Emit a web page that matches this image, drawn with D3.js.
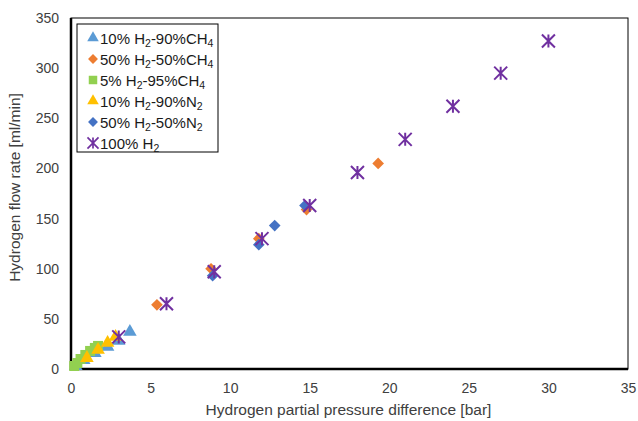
<!DOCTYPE html>
<html>
<head>
<meta charset="utf-8">
<script src="https://cdn.jsdelivr.net/npm/d3@7"></script>
<style>
  body { margin: 0; background: #fff; }
  text { font-family: "Liberation Sans", Arial, sans-serif; fill: #404040; }
</style>
</head>
<body>
<div id="chart-container"></div>
<script>
// Plot area margins
const margin = { top: 18, right: 10, bottom: 52, left: 71 },
    width = 638 - margin.left - margin.right,
    height = 421 - margin.top - margin.bottom;

// Tick values
const xTicks = [0, 5, 10, 15, 20, 25, 30, 35];
const yTicks = [0, 50, 100, 150, 200, 250, 300, 350];

// Series data (pressure difference [bar], flow [ml/min])
const h2ch4_10x = [0.3, 0.8, 1.5, 2.3, 3.0, 3.7];
const h2ch4_10y = [3, 9, 16, 22, 28, 37];
const h2ch4_50x = [5.4, 8.8, 11.8, 14.8, 19.3];
const h2ch4_50y = [64, 100, 130, 159, 205];
const h2ch4_5x = [0.2, 0.4, 0.6, 0.9, 1.2, 1.5, 1.7];
const h2ch4_5y = [3, 6, 10, 14, 18, 21, 23];
const h2n2_10x = [1.0, 1.7, 2.3, 2.8];
const h2n2_10y = [11, 19, 26, 32];
const h2n2_50x = [8.9, 11.8, 12.8, 14.7];
const h2n2_50y = [93, 124, 143, 163];
const h2_100x = [3, 6, 9, 12, 15, 18, 21, 24, 27, 30];
const h2_100y = [32, 65, 97, 130, 163, 196, 229, 262, 295, 327];

const series = [
    { label: ["10% H", "2", "-90%CH", "4"], xs: h2ch4_10x, ys: h2ch4_10y, shape: "triangle", color: "#5B9BD5" },
    { label: ["50% H", "2", "-50%CH", "4"], xs: h2ch4_50x, ys: h2ch4_50y, shape: "diamond", color: "#ED7D31" },
    { label: ["5% H", "2", "-95%CH", "4"], xs: h2ch4_5x, ys: h2ch4_5y, shape: "square", color: "#92D050" },
    { label: ["10% H", "2", "-90%N", "2"], xs: h2n2_10x, ys: h2n2_10y, shape: "triangle", color: "#FFC000" },
    { label: ["50% H", "2", "-50%N", "2"], xs: h2n2_50x, ys: h2n2_50y, shape: "diamond", color: "#4472C4" },
    { label: ["100% H", "2"], xs: h2_100x, ys: h2_100y, shape: "star", color: "#7030A0" }
];

function drawMarker(g, shape, color) {
    if (shape === "triangle") {
        g.append("path").attr("d", d3.symbol(d3.symbolTriangle, 80)()).attr("fill", color);
    } else if (shape === "diamond") {
        g.append("path").attr("d", d3.symbol(d3.symbolSquare, 68)())
            .attr("transform", "rotate(45)").attr("fill", color);
    } else if (shape === "square") {
        g.append("path").attr("d", d3.symbol(d3.symbolSquare, 100)()).attr("fill", color);
    } else {
        const r = 6.5;
        g.append("path")
            .attr("d", `M${-r},${-r}L${r},${r}M${-r},${r}L${r},${-r}M0,${-r}L0,${r}`)
            .attr("stroke", color).attr("stroke-width", 2).attr("fill", "none");
    }
}

function init() {
    const svg = d3.select("#chart-container")
        .append("svg")
        .attr("width", 638)
        .attr("height", 421)
        .append("g")
        .attr("transform", `translate(${margin.left},${margin.top})`);

    const xScale = d3.scaleLinear().domain([0, 35]).range([0, width]);
    const yScale = d3.scaleLinear().domain([0, 350]).range([height, 0]);

    // Frame: thin top/right, thick left/bottom
    svg.append("rect")
        .attr("width", width).attr("height", height)
        .attr("fill", "none").attr("stroke", "#000").attr("stroke-width", 1);
    svg.append("path")
        .attr("d", `M0,0V${height}H${width}`)
        .attr("fill", "none").attr("stroke", "#000").attr("stroke-width", 2.5);

    // Axes (labels only)
    const xAxis = svg.append("g")
        .attr("transform", `translate(0,${height})`)
        .call(d3.axisBottom(xScale).tickValues(xTicks).tickSize(0).tickPadding(14));
    const yAxis = svg.append("g")
        .call(d3.axisLeft(yScale).tickValues(yTicks).tickSize(0).tickPadding(12));
    [xAxis, yAxis].forEach(a => {
        a.select(".domain").remove();
        a.selectAll("text").style("font-size", "14px")
            .style("font-family", "'Liberation Sans', Arial, sans-serif").attr("fill", "#404040");
    });

    // Axis titles
    svg.append("text")
        .attr("x", width / 2 - 1)
        .attr("y", height + 46)
        .attr("text-anchor", "middle")
        .style("font-size", "15.5px")
        .text("Hydrogen partial pressure difference [bar]");
    svg.append("text")
        .attr("transform", `translate(${-51},${height / 2 - 6}) rotate(-90)`)
        .attr("text-anchor", "middle")
        .style("font-size", "15.5px")
        .text("Hydrogen flow rate [ml/min]");

    // Points
    series.forEach(s => {
        s.xs.forEach((x, i) => {
            const g = svg.append("g")
                .attr("transform", `translate(${xScale(x)},${yScale(s.ys[i])})`);
            drawMarker(g, s.shape, s.color);
        });
    });

    // Legend
    const legend = svg.append("g").attr("transform", "translate(6,6)");
    legend.append("rect")
        .attr("width", 141).attr("height", 128)
        .attr("fill", "#fff").attr("stroke", "#000").attr("stroke-width", 1);
    series.forEach((s, i) => {
        const row = legend.append("g").attr("transform", `translate(0,${14 + i * 21})`);
        const m = row.append("g");
        drawMarker(m, s.shape, s.color);
        m.attr("transform", "translate(16,0) scale(0.85)");
        const t = row.append("text").attr("x", 23).attr("y", 5.5)
            .style("font-size", "15px").style("fill", "#1a1a1a");
        s.label.forEach((part, k) => {
            const ts = t.append("tspan").text(part);
            if (k % 2 === 1) ts.attr("baseline-shift", "-25%").style("font-size", "10.5px");
        });
    });
}

window.onload = init;
</script>
</body>
</html>
